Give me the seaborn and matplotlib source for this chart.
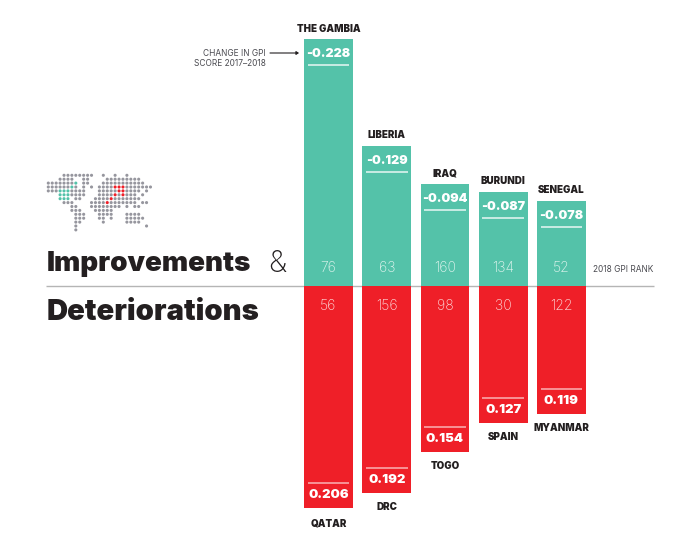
import matplotlib
matplotlib.use('Agg')
import matplotlib.pyplot as plt
import pandas as pd
import seaborn as sns

# 2017-2018 change in GPI score, biggest five each way
improved_names = ['THE GAMBIA', 'LIBERIA', 'IRAQ', 'BURUNDI', 'SENEGAL']
improved_change = [-0.228, -0.129, -0.094, -0.087, -0.078]
improved_rank = [76, 63, 160, 134, 52]

worse_names = ['QATAR', 'DRC', 'TOGO', 'SPAIN', 'MYANMAR']
worse_change = [0.206, 0.192, 0.154, 0.127, 0.119]
worse_rank = [56, 156, 98, 30, 122]

# little dot map, o grey, g green, r red
map_rows = [
    '....oooooooo..o..o..o......',
    '...oooo..oo....ooooooooo...',
    'ooooooog.oo...ooooooooooo..',
    'oooooogo.o.o.oooorrrooooooo',
    'ooogggoooo...ooooorroooo.o.',
    '...gggoooo...oooororooo.o..',
    '...ggg.oo...oooorooooooo...',
    '....ooo....oooorooooooo.oo.',
    '......oo...oooooooo.o.oo...',
    '......ooo...ooooo..........',
    '.......ooo...oooo...oooo...',
    '.......ooo...oo.o...ooooo..',
    '.......oo.....o.....oooo...',
    '.......o.................o.',
    '.......o...................',
]

GREEN = '#54C2A9'
RED = '#EF1F28'
DARK = '#231F20'
TEXT = '#4A4A50'
PX = 1 / 1079  # one pixel in score units

plt.rcParams['font.family'] = ['Inter', 'DejaVu Sans']

fig = plt.figure(figsize=(7, 5.52), dpi=100)
ax = fig.add_axes([0, 0, 1, 1])

df = pd.DataFrame({'slot': range(5),
                   'up': [-v for v in improved_change],
                   'down': [-v for v in worse_change]})
sns.barplot(data=df, x='slot', y='up', color=GREEN, saturation=1, width=0.84, ax=ax, zorder=2)
sns.barplot(data=df, x='slot', y='down', color=RED, saturation=1, width=0.84, ax=ax, zorder=2)

ax.set_xlim(-328.5 / 58.25, (700 - 328.5) / 58.25)
ax.set_ylim(-266.5 * PX, 285.5 * PX)
ax.axis('off')


def to_x(px):
    return (px - 328.5) / 58.25


def to_y(py):
    return (285.5 - py) * PX


ax.hlines(0, to_x(46), to_x(654), color='#B5B5B5', lw=1, zorder=1)

name_gap_up = [10, 11, 11, 11, 11]
name_gap_down = [16, 14, 14, 14, 14]
for i in range(5):
    up = -improved_change[i]
    down = worse_change[i]
    ax.text(i, up + name_gap_up[i] * PX, improved_names[i], ha='center', va='center',
            fontsize=7, fontweight='black', color=DARK)
    ax.text(i, up - 15 * PX, f'{improved_change[i]:.3f}', ha='center', va='center',
            fontsize=9, fontweight='black', color='white')
    ax.hlines(up - 26 * PX, i - 0.36, i + 0.36, color='white', alpha=0.8, lw=1.2, zorder=3)
    ax.text(i, to_y(268), str(improved_rank[i]), ha='center', va='center',
            fontsize=10, fontweight='light', color='#E4F6F0')

    ax.text(i, -down - name_gap_down[i] * PX, worse_names[i], ha='center', va='center',
            fontsize=7, fontweight='black', color=DARK)
    ax.text(i, -down + 13 * PX, f'{down:.3f}', ha='center', va='center',
            fontsize=9.4, fontweight='black', color='white')
    ax.hlines(-down + 25 * PX, i - 0.36, i + 0.36, color='white', alpha=0.6, lw=1.2, zorder=3)
    ax.text(i, to_y(306), str(worse_rank[i]), ha='center', va='center',
            fontsize=10, fontweight='light', color='#FDDCDC')

ax.text(to_x(266), to_y(53), 'CHANGE IN GPI', ha='right', va='center', fontsize=6, color=TEXT)
ax.text(to_x(266), to_y(64), 'SCORE 2017\u20132018', ha='right', va='center', fontsize=6, color=TEXT)
ax.annotate('', xy=(to_x(299), to_y(53)), xytext=(to_x(270), to_y(53)),
            arrowprops=dict(arrowstyle='-|>,head_width=0.1,head_length=0.15', color=DARK, lw=0.8,
                            shrinkA=0, shrinkB=0))
ax.text(to_x(593), to_y(269.5), '2018 GPI RANK', ha='left', va='center', fontsize=6, color=TEXT)

ax.text(to_x(46.5), to_y(264), 'Improvements', ha='left', va='center', fontsize=20,
        fontweight='black', color=DARK)
ax.text(to_x(268), to_y(264), '&', ha='left', va='center', fontsize=21.5,
        fontweight='light', color=DARK)
ax.text(to_x(46.5), to_y(312.5), 'Deteriorations', ha='left', va='center', fontsize=21,
        fontweight='black', color=DARK)

# dot map
dot_colors = {'o': '#96969E', 'g': GREEN, 'r': RED}
dots = []
for r, row in enumerate(map_rows):
    for c, ch in enumerate(row):
        if ch != '.':
            dots.append({'x': to_x(48.3 + c * 3.93), 'y': to_y(175.3 + r * 3.9), 'kind': ch})
dots = pd.DataFrame(dots)
sns.scatterplot(data=dots, x='x', y='y', hue='kind', palette=dot_colors, s=5, linewidth=0,
                legend=False, ax=ax, zorder=4)
ax.set_xlim(-328.5 / 58.25, (700 - 328.5) / 58.25)
ax.set_ylim(-266.5 * PX, 285.5 * PX)

fig.savefig('out.png', dpi=100)
